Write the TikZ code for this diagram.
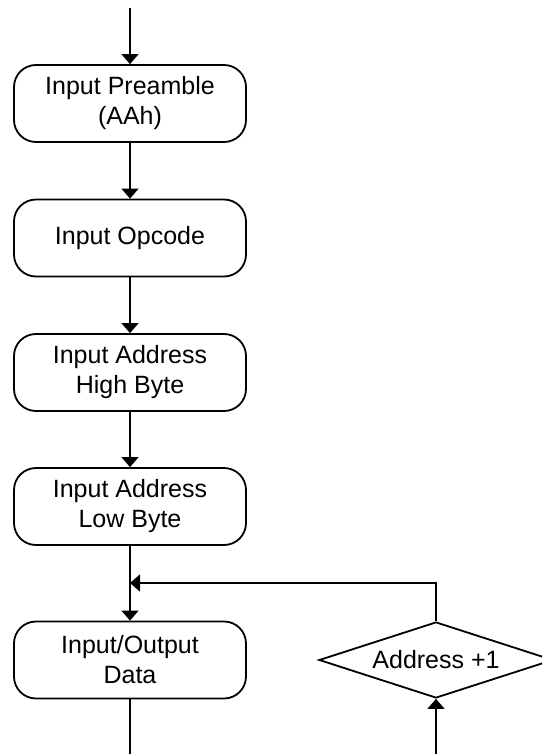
\documentclass[tikz,border=0pt]{standalone}
\usepackage{fontspec}
\setmainfont{Liberation Sans}
\usetikzlibrary{shapes.geometric,arrows.meta}
\begin{document}
\begin{tikzpicture}[x=1pt,y=-1pt,
  stepbox/.style={draw, line width=1.8pt, rounded corners=22pt, minimum width=232pt, minimum height=77pt, align=center, inner sep=0pt, font=\fontsize{25pt}{30pt}\selectfont},
  decbox/.style={draw, shape=diamond, aspect=3.08, line width=1.8pt, minimum width=234pt, minimum height=76pt, inner sep=0pt, font=\fontsize{25pt}{30pt}\selectfont},
  conn/.style={line width=1.3pt},
  arr/.style={conn, -{Triangle[width=17pt,length=10pt]}}]
\useasboundingbox (0,0) rectangle (542,754);
\clip (0,0) rectangle (542,754);
\node[stepbox] (b1) at (130,103.5) {Input Preamble\\(AAh)};
\node[stepbox] (b2) at (130,238) {Input Opcode};
\node[stepbox] (b3) at (130,372.5) {Input Address\\High Byte};
\node[stepbox] (b4) at (130,506.5) {Input Address\\Low Byte};
\node[stepbox] (b5) at (130,660) {Input/Output\\Data};
\node[decbox] (d) at (436,660) {Address +1};
\coordinate (top) at (130,8);
\coordinate (join) at (130,583);
\coordinate (bot) at (130,770);
\coordinate (dbot) at (436,770);
\draw[arr] (top) -- (b1);
\draw[arr] (b1) -- (b2);
\draw[arr] (b2) -- (b3);
\draw[arr] (b3) -- (b4);
\draw[arr] (b4) -- (b5);
\draw[arr] (d.north) |- (join);
\draw[conn] (b5) -- (bot);
\draw[arr] (dbot) -- (d.south);
\end{tikzpicture}
\end{document}
